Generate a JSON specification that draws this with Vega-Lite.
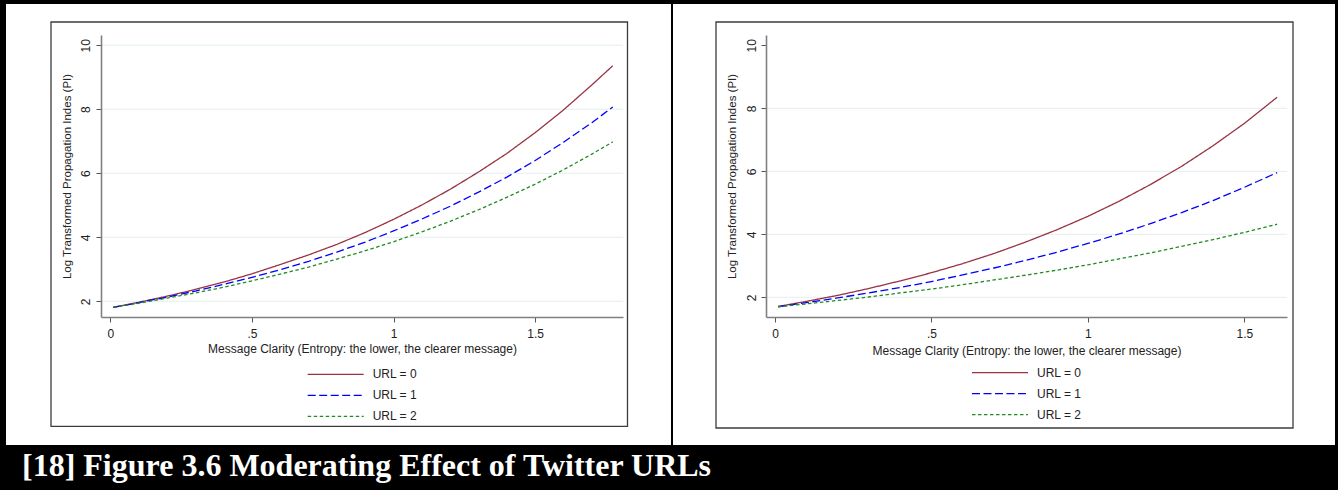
{
  "$schema": "https://vega.github.io/schema/vega-lite/v6.json",
  "background": "black",
  "padding": {"left": 6, "top": 3, "right": 3, "bottom": 20},
  "spacing": 2,
  "resolve": {"scale": {"color": "independent", "strokeDash": "independent"}, "legend": {"color": "independent", "strokeDash": "independent"}},
  "title": {"text": "[18] Figure 3.6 Moderating Effect of Twitter URLs", "orient": "bottom", "anchor": "start", "offset": 31, "baseline": "alphabetic", "dx": 16, "color": "white", "font": "Liberation Serif", "fontSize": 32, "fontWeight": "bold"},
  "datasets": {
    "left": [
      {"clarity": 0.01, "pi": 1.81, "url": "URL = 0"}, {"clarity": 0.1, "pi": 1.97, "url": "URL = 0"}, {"clarity": 0.2, "pi": 2.16, "url": "URL = 0"}, {"clarity": 0.3, "pi": 2.37, "url": "URL = 0"}, {"clarity": 0.4, "pi": 2.6, "url": "URL = 0"}, {"clarity": 0.5, "pi": 2.86, "url": "URL = 0"}, {"clarity": 0.6, "pi": 3.15, "url": "URL = 0"}, {"clarity": 0.7, "pi": 3.45, "url": "URL = 0"}, {"clarity": 0.8, "pi": 3.78, "url": "URL = 0"}, {"clarity": 0.9, "pi": 4.15, "url": "URL = 0"}, {"clarity": 1.0, "pi": 4.56, "url": "URL = 0"}, {"clarity": 1.1, "pi": 5.01, "url": "URL = 0"}, {"clarity": 1.2, "pi": 5.5, "url": "URL = 0"}, {"clarity": 1.3, "pi": 6.04, "url": "URL = 0"}, {"clarity": 1.4, "pi": 6.62, "url": "URL = 0"}, {"clarity": 1.5, "pi": 7.27, "url": "URL = 0"}, {"clarity": 1.6, "pi": 7.98, "url": "URL = 0"}, {"clarity": 1.7, "pi": 8.76, "url": "URL = 0"}, {"clarity": 1.774, "pi": 9.36, "url": "URL = 0"},
      {"clarity": 0.01, "pi": 1.81, "url": "URL = 1"}, {"clarity": 0.1, "pi": 1.96, "url": "URL = 1"}, {"clarity": 0.2, "pi": 2.13, "url": "URL = 1"}, {"clarity": 0.3, "pi": 2.32, "url": "URL = 1"}, {"clarity": 0.4, "pi": 2.53, "url": "URL = 1"}, {"clarity": 0.5, "pi": 2.75, "url": "URL = 1"}, {"clarity": 0.6, "pi": 2.99, "url": "URL = 1"}, {"clarity": 0.7, "pi": 3.25, "url": "URL = 1"}, {"clarity": 0.8, "pi": 3.54, "url": "URL = 1"}, {"clarity": 0.9, "pi": 3.85, "url": "URL = 1"}, {"clarity": 1.0, "pi": 4.2, "url": "URL = 1"}, {"clarity": 1.1, "pi": 4.57, "url": "URL = 1"}, {"clarity": 1.2, "pi": 4.97, "url": "URL = 1"}, {"clarity": 1.3, "pi": 5.41, "url": "URL = 1"}, {"clarity": 1.4, "pi": 5.88, "url": "URL = 1"}, {"clarity": 1.5, "pi": 6.4, "url": "URL = 1"}, {"clarity": 1.6, "pi": 6.97, "url": "URL = 1"}, {"clarity": 1.7, "pi": 7.58, "url": "URL = 1"}, {"clarity": 1.774, "pi": 8.07, "url": "URL = 1"},
      {"clarity": 0.01, "pi": 1.81, "url": "URL = 2"}, {"clarity": 0.1, "pi": 1.94, "url": "URL = 2"}, {"clarity": 0.2, "pi": 2.1, "url": "URL = 2"}, {"clarity": 0.3, "pi": 2.26, "url": "URL = 2"}, {"clarity": 0.4, "pi": 2.44, "url": "URL = 2"}, {"clarity": 0.5, "pi": 2.64, "url": "URL = 2"}, {"clarity": 0.6, "pi": 2.85, "url": "URL = 2"}, {"clarity": 0.7, "pi": 3.07, "url": "URL = 2"}, {"clarity": 0.8, "pi": 3.32, "url": "URL = 2"}, {"clarity": 0.9, "pi": 3.58, "url": "URL = 2"}, {"clarity": 1.0, "pi": 3.86, "url": "URL = 2"}, {"clarity": 1.1, "pi": 4.17, "url": "URL = 2"}, {"clarity": 1.2, "pi": 4.5, "url": "URL = 2"}, {"clarity": 1.3, "pi": 4.86, "url": "URL = 2"}, {"clarity": 1.4, "pi": 5.25, "url": "URL = 2"}, {"clarity": 1.5, "pi": 5.66, "url": "URL = 2"}, {"clarity": 1.6, "pi": 6.11, "url": "URL = 2"}, {"clarity": 1.7, "pi": 6.6, "url": "URL = 2"}, {"clarity": 1.774, "pi": 6.98, "url": "URL = 2"}
    ],
    "right": [
      {"clarity": 0.01, "pi": 1.71, "url": "URL = 0"}, {"clarity": 0.1, "pi": 1.87, "url": "URL = 0"}, {"clarity": 0.2, "pi": 2.06, "url": "URL = 0"}, {"clarity": 0.3, "pi": 2.28, "url": "URL = 0"}, {"clarity": 0.4, "pi": 2.52, "url": "URL = 0"}, {"clarity": 0.5, "pi": 2.78, "url": "URL = 0"}, {"clarity": 0.6, "pi": 3.07, "url": "URL = 0"}, {"clarity": 0.7, "pi": 3.39, "url": "URL = 0"}, {"clarity": 0.8, "pi": 3.75, "url": "URL = 0"}, {"clarity": 0.9, "pi": 4.14, "url": "URL = 0"}, {"clarity": 1.0, "pi": 4.57, "url": "URL = 0"}, {"clarity": 1.1, "pi": 5.05, "url": "URL = 0"}, {"clarity": 1.2, "pi": 5.58, "url": "URL = 0"}, {"clarity": 1.3, "pi": 6.16, "url": "URL = 0"}, {"clarity": 1.4, "pi": 6.81, "url": "URL = 0"}, {"clarity": 1.5, "pi": 7.52, "url": "URL = 0"}, {"clarity": 1.605, "pi": 8.35, "url": "URL = 0"},
      {"clarity": 0.01, "pi": 1.7, "url": "URL = 1"}, {"clarity": 0.1, "pi": 1.83, "url": "URL = 1"}, {"clarity": 0.2, "pi": 1.98, "url": "URL = 1"}, {"clarity": 0.3, "pi": 2.14, "url": "URL = 1"}, {"clarity": 0.4, "pi": 2.31, "url": "URL = 1"}, {"clarity": 0.5, "pi": 2.5, "url": "URL = 1"}, {"clarity": 0.6, "pi": 2.71, "url": "URL = 1"}, {"clarity": 0.7, "pi": 2.93, "url": "URL = 1"}, {"clarity": 0.8, "pi": 3.17, "url": "URL = 1"}, {"clarity": 0.9, "pi": 3.43, "url": "URL = 1"}, {"clarity": 1.0, "pi": 3.71, "url": "URL = 1"}, {"clarity": 1.1, "pi": 4.01, "url": "URL = 1"}, {"clarity": 1.2, "pi": 4.34, "url": "URL = 1"}, {"clarity": 1.3, "pi": 4.69, "url": "URL = 1"}, {"clarity": 1.4, "pi": 5.07, "url": "URL = 1"}, {"clarity": 1.5, "pi": 5.49, "url": "URL = 1"}, {"clarity": 1.605, "pi": 5.96, "url": "URL = 1"},
      {"clarity": 0.01, "pi": 1.7, "url": "URL = 2"}, {"clarity": 0.1, "pi": 1.79, "url": "URL = 2"}, {"clarity": 0.2, "pi": 1.9, "url": "URL = 2"}, {"clarity": 0.3, "pi": 2.01, "url": "URL = 2"}, {"clarity": 0.4, "pi": 2.14, "url": "URL = 2"}, {"clarity": 0.5, "pi": 2.26, "url": "URL = 2"}, {"clarity": 0.6, "pi": 2.4, "url": "URL = 2"}, {"clarity": 0.7, "pi": 2.55, "url": "URL = 2"}, {"clarity": 0.8, "pi": 2.7, "url": "URL = 2"}, {"clarity": 0.9, "pi": 2.86, "url": "URL = 2"}, {"clarity": 1.0, "pi": 3.03, "url": "URL = 2"}, {"clarity": 1.1, "pi": 3.22, "url": "URL = 2"}, {"clarity": 1.2, "pi": 3.41, "url": "URL = 2"}, {"clarity": 1.3, "pi": 3.62, "url": "URL = 2"}, {"clarity": 1.4, "pi": 3.83, "url": "URL = 2"}, {"clarity": 1.5, "pi": 4.06, "url": "URL = 2"}, {"clarity": 1.605, "pi": 4.32, "url": "URL = 2"}
    ],
    "gridLeft": [{"level": 2}, {"level": 4}, {"level": 6}, {"level": 8}, {"level": 10}],
    "gridRight": [{"level": 2}, {"level": 4}, {"level": 6}, {"level": 8}]
  },
  "hconcat": [
    {
      "width": 522,
      "height": 282,
      "layer": [
        {
          "data": {"values": [{}]},
          "mark": {"type": "rect", "fill": "white"},
          "encoding": {
            "x": {"datum": -0.36841, "type": "quantitative"},
            "x2": {"datum": 1.97947},
            "y": {"datum": 11.28848, "type": "quantitative"},
            "y2": {"datum": -2.48889}
          }
        },
        {
          "data": {"values": [{}]},
          "mark": {"type": "rect", "fill": null, "stroke": "#3c3c3c", "strokeWidth": 1.3},
          "encoding": {
            "x": {"datum": -0.20953, "type": "quantitative"},
            "x2": {"datum": 1.82589},
            "y": {"datum": 10.72614, "type": "quantitative"},
            "y2": {"datum": -1.90469}
          }
        },
        {
          "data": {"name": "gridLeft"},
          "mark": {"type": "rule", "stroke": "#e4eeef", "strokeWidth": 1},
          "encoding": {
            "x": {"datum": -0.033, "type": "quantitative"},
            "x2": {"datum": 1.81},
            "y": {"field": "level", "type": "quantitative"}
          }
        },
        {
          "data": {"name": "left"},
          "mark": {"type": "line", "strokeWidth": 1.3},
          "encoding": {
            "x": {"field": "clarity", "type": "quantitative", "scale": {"domain": [-0.033, 1.81], "nice": false, "zero": false},
              "axis": {"zindex": 1, "title": "Message Clarity (Entropy: the lower, the clearer message)", "values": [0, 0.5, 1, 1.5], "format": "~g", "labelExpr": "datum.value == 0.5 ? '.5' : datum.label", "grid": false, "labelPadding": 6, "titleY": 31, "titleBaseline": "middle"}},
            "y": {"field": "pi", "type": "quantitative", "scale": {"domain": [1.51, 10.32], "nice": false, "zero": false},
              "axis": {"zindex": 1, "title": "Log Transformed Propagation Indes (PI)", "values": [2, 4, 6, 8, 10], "grid": false, "labelAngle": -90, "labelAlign": "center", "labelBaseline": "alphabetic", "labelPadding": 7, "titleX": -34, "titleBaseline": "middle", "titleFontSize": 11.5}},
            "color": {"field": "url", "type": "nominal", "scale": {"domain": ["URL = 0", "URL = 1", "URL = 2"], "range": ["#993344", "#0000ff", "#228b22"]}, "legend": {"legendX": 205.7, "legendY": 332.3}},
            "strokeDash": {"field": "url", "type": "nominal", "scale": {"domain": ["URL = 0", "URL = 1", "URL = 2"], "range": [[1, 0], [8, 3.5], [3.5, 2.5]]}, "legend": {"legendX": 205.7, "legendY": 332.3}}
          }
        }
      ]
    },
    {
      "width": 521,
      "height": 282,
      "layer": [
        {
          "data": {"values": [{}]},
          "mark": {"type": "rect", "fill": "white"},
          "encoding": {
            "x": {"datum": -0.32606, "type": "quantitative"},
            "x2": {"datum": 1.78992},
            "y": {"datum": 11.31113, "type": "quantitative"},
            "y2": {"datum": -2.68887}
          }
        },
        {
          "data": {"values": [{}]},
          "mark": {"type": "rect", "fill": null, "stroke": "#3c3c3c", "strokeWidth": 1.3},
          "encoding": {
            "x": {"datum": -0.18862, "type": "quantitative"},
            "x2": {"datum": 1.65568},
            "y": {"datum": 10.7397, "type": "quantitative"},
            "y2": {"datum": -2.14919}
          }
        },
        {
          "data": {"name": "gridRight"},
          "mark": {"type": "rule", "stroke": "#e4eeef", "strokeWidth": 1},
          "encoding": {
            "x": {"datum": -0.0288, "type": "quantitative"},
            "x2": {"datum": 1.6365},
            "y": {"field": "level", "type": "quantitative"}
          }
        },
        {
          "data": {"name": "right"},
          "mark": {"type": "line", "strokeWidth": 1.3},
          "encoding": {
            "x": {"field": "clarity", "type": "quantitative", "scale": {"domain": [-0.0288, 1.6365], "nice": false, "zero": false},
              "axis": {"zindex": 1, "title": "Message Clarity (Entropy: the lower, the clearer message)", "values": [0, 0.5, 1, 1.5], "format": "~g", "labelExpr": "datum.value == 0.5 ? '.5' : datum.label", "grid": false, "labelPadding": 6, "titleY": 33.5, "titleBaseline": "middle"}},
            "y": {"field": "pi", "type": "quantitative", "scale": {"domain": [1.3746, 10.327], "nice": false, "zero": false},
              "axis": {"zindex": 1, "title": "Log Transformed Propagation Indes (PI)", "values": [2, 4, 6, 8, 10], "grid": false, "labelAngle": -90, "labelAlign": "center", "labelBaseline": "alphabetic", "labelPadding": 5.5, "titleX": -34, "titleBaseline": "middle", "titleFontSize": 11.5}},
            "color": {"field": "url", "type": "nominal", "scale": {"domain": ["URL = 0", "URL = 1", "URL = 2"], "range": ["#993344", "#0000ff", "#228b22"]}, "legend": {"legendX": 205, "legendY": 330.7}},
            "strokeDash": {"field": "url", "type": "nominal", "scale": {"domain": ["URL = 0", "URL = 1", "URL = 2"], "range": [[1, 0], [8, 3.5], [3.5, 2.5]]}, "legend": {"legendX": 205, "legendY": 330.7}}
          }
        }
      ]
    }
  ],
  "config": {
    "view": {"stroke": null},
    "axis": {"zindex": 1, "labelFont": "Liberation Sans", "labelFontSize": 12, "labelColor": "#222222", "titleFont": "Liberation Sans", "titleFontSize": 12, "titleFontWeight": "normal", "titleColor": "#222222", "domainColor": "#808080", "domainWidth": 1.6, "tickColor": "#555555", "tickSize": 5, "tickWidth": 1, "labelFlush": false, "labelOverlap": false},
    "legend": {"orient": "none", "title": null, "symbolType": "stroke", "symbolSize": 3136, "symbolStrokeWidth": 1.3, "clipHeight": 14, "rowPadding": 7, "labelOffset": 8, "labelFont": "Liberation Sans", "labelFontSize": 12, "labelColor": "#222222", "padding": 0}
  }
}
